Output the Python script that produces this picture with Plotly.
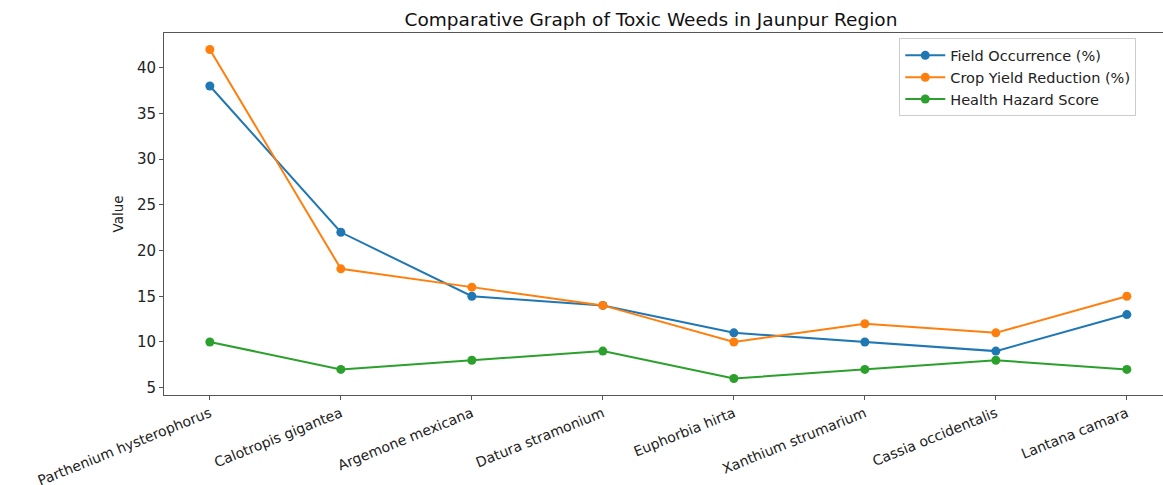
import plotly.graph_objects as go

weeds = ["Parthenium hysterophorus", "Calotropis gigantea", "Argemone mexicana",
         "Datura stramonium", "Euphorbia hirta", "Xanthium strumarium",
         "Cassia occidentalis", "Lantana camara"]
field_occurrence = [38, 22, 15, 14, 11, 10, 9, 13]
crop_yield_reduction = [42, 18, 16, 14, 10, 12, 11, 15]
health_hazard = [10, 7, 8, 9, 6, 7, 8, 7]
y_ticks = [5, 10, 15, 20, 25, 30, 35, 40]

series = [
    ("Field Occurrence (%)", field_occurrence, "#1f77b4"),
    ("Crop Yield Reduction (%)", crop_yield_reduction, "#ff7f0e"),
    ("Health Hazard Score", health_hazard, "#2ca02c"),
]

xidx = list(range(len(weeds)))
fig = go.Figure()
for name, vals, col in series:
    fig.add_trace(go.Scatter(
        x=xidx, y=vals, name=name, mode="lines+markers",
        line=dict(color=col, width=2),
        marker=dict(color=col, size=9),
    ))

font = "DejaVu Sans, sans-serif"
fig.update_layout(
    width=1163, height=485,
    margin=dict(l=164, r=0, t=33, b=90, autoexpand=False),
    paper_bgcolor="white", plot_bgcolor="white",
    font=dict(family=font, size=14, color="#222"),
    title=dict(text="Comparative Graph of Toxic Weeds in Jaunpur Region",
               x=651 / 1163, xanchor="center", y=1 - 20 / 485, yanchor="middle",
               font=dict(size=18.5, family=font, color="#111")),
    showlegend=True,
    legend=dict(x=0.736, y=0.985, xanchor="left", yanchor="top",
                bgcolor="rgba(255,255,255,0.8)", bordercolor="#cccccc", borderwidth=1,
                font=dict(size=14.5, family=font, color="#222"),
                itemwidth=40, tracegroupgap=0),
)
fig.update_xaxes(
    range=[-0.35, 7.276], tickmode="array", tickvals=xidx, ticktext=weeds,
    tickangle=-22, showgrid=False, zeroline=False, automargin=False,
    showline=True, linecolor="#555", linewidth=1, mirror=True,
    ticks="outside", ticklen=4, tickcolor="#555",
    tickfont=dict(size=14, family=font, color="#222"),
)
fig.update_yaxes(
    range=[4.2, 43.8], tickmode="array", tickvals=y_ticks,
    showgrid=False, zeroline=False, automargin=False,
    showline=True, linecolor="#555", linewidth=1,
    ticks="outside", ticklen=4, tickcolor="#555",
    tickfont=dict(size=15, family=font, color="#222"),
    title=dict(text="Value", font=dict(size=13.5, family=font, color="#222"), standoff=10),
)

fig.write_html("out.html", config={"displayModeBar": False},
               post_script="document.body.style.margin='0';")
